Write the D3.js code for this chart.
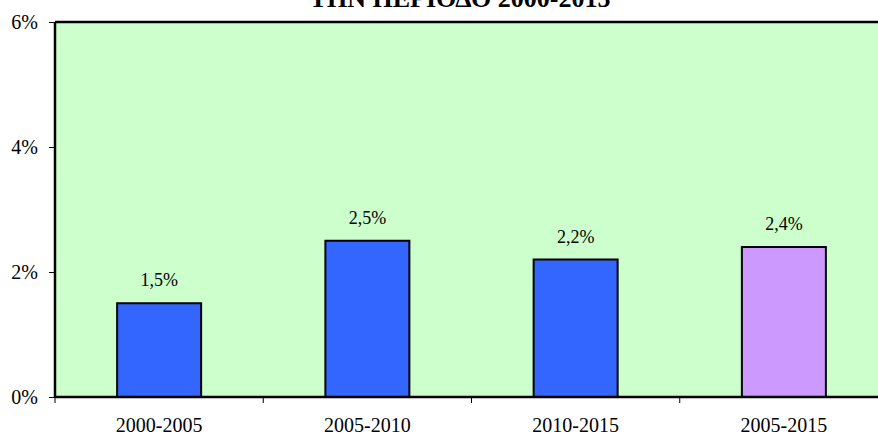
<!DOCTYPE html>
<html><head><meta charset="utf-8">
<script src="https://cdn.jsdelivr.net/npm/d3@7"></script>
<style>body{margin:0;background:#fff}svg{display:block}</style>
</head><body>
<svg id="c" width="878" height="437"></svg>
<script>
const categories = ["2000-2005","2005-2010","2010-2015","2005-2015"];
const values = [1.5, 2.5, 2.2, 2.4];
const labels = ["1,5%","2,5%","2,2%","2,4%"];
const barColors = ["#3366FF","#3366FF","#3366FF","#CC99FF"];
const yTicks = [0,2,4,6];
const yTickLabels = ["0%","2%","4%","6%"];
const title = "ΤΗΝ ΠΕΡΙΟΔΟ 2000-2015";

const svg = d3.select("#c");
const m = {l:55, t:22, r:888, b:397};
const xPos = d3.scaleBand().domain(categories).range([m.l, m.r]);
const y = d3.scaleLinear().domain([0,6]).range([m.b, m.t]);
const font = "'Liberation Serif','Times New Roman',serif";

svg.append("rect").attr("x",m.l).attr("y",m.t).attr("width",m.r-m.l).attr("height",m.b-m.t).attr("fill","#CCFFCC");

svg.append("text").attr("x",460).attr("y",7).attr("text-anchor","middle")
  .attr("font-family",font).attr("font-weight","bold").attr("font-size",26).text(title);

const bw = 84;
svg.selectAll("rect.bar").data(values).enter().append("rect").attr("class","bar")
  .attr("x",(d,i)=>xPos(categories[i])+xPos.bandwidth()/2-bw/2)
  .attr("width",bw)
  .attr("y",d=>y(d)).attr("height",d=>y(0)-y(d))
  .attr("fill",(d,i)=>barColors[i]).attr("stroke","#000").attr("stroke-width",2);

svg.selectAll("text.lbl").data(values).enter().append("text").attr("class","lbl")
  .attr("x",(d,i)=>xPos(categories[i])+xPos.bandwidth()/2)
  .attr("y",d=>y(d)-17).attr("text-anchor","middle")
  .attr("font-family",font).attr("font-size",18).text((d,i)=>labels[i]);

// y axis
const ya = svg.append("g").attr("transform",`translate(${m.l},0)`)
  .call(d3.axisLeft(y).tickValues(yTicks).tickFormat((d,i)=>yTickLabels[i]).tickSize(6).tickPadding(11));
ya.select(".domain").attr("stroke","#000").attr("stroke-width",2.5).attr("d",`M0,${m.t}V${m.b}`);
ya.selectAll("text").attr("font-family",font).attr("font-size",20).attr("fill","#000");

// x axis
const xa = svg.append("g").attr("transform",`translate(0,${m.b})`)
  .call(d3.axisBottom(xPos).tickSize(0));
xa.select(".domain").remove();
xa.selectAll("text").attr("y",35).attr("dy",0).attr("font-family",font).attr("font-size",20).attr("fill","#000");
svg.append("line").attr("x1",m.l).attr("x2",m.r).attr("y1",m.b).attr("y2",m.b).attr("stroke","#000").attr("stroke-width",2.5);
svg.append("line").attr("x1",m.l).attr("x2",m.r).attr("y1",m.t).attr("y2",m.t).attr("stroke","#000").attr("stroke-width",2.5);
const bounds = categories.map(c=>xPos(c)).concat([m.r]);
svg.selectAll("line.xt").data(bounds).enter().append("line").attr("class","xt")
  .attr("x1",d=>d).attr("x2",d=>d).attr("y1",m.b).attr("y2",m.b+6).attr("stroke","#000").attr("stroke-width",1);
</script>
</body></html>
